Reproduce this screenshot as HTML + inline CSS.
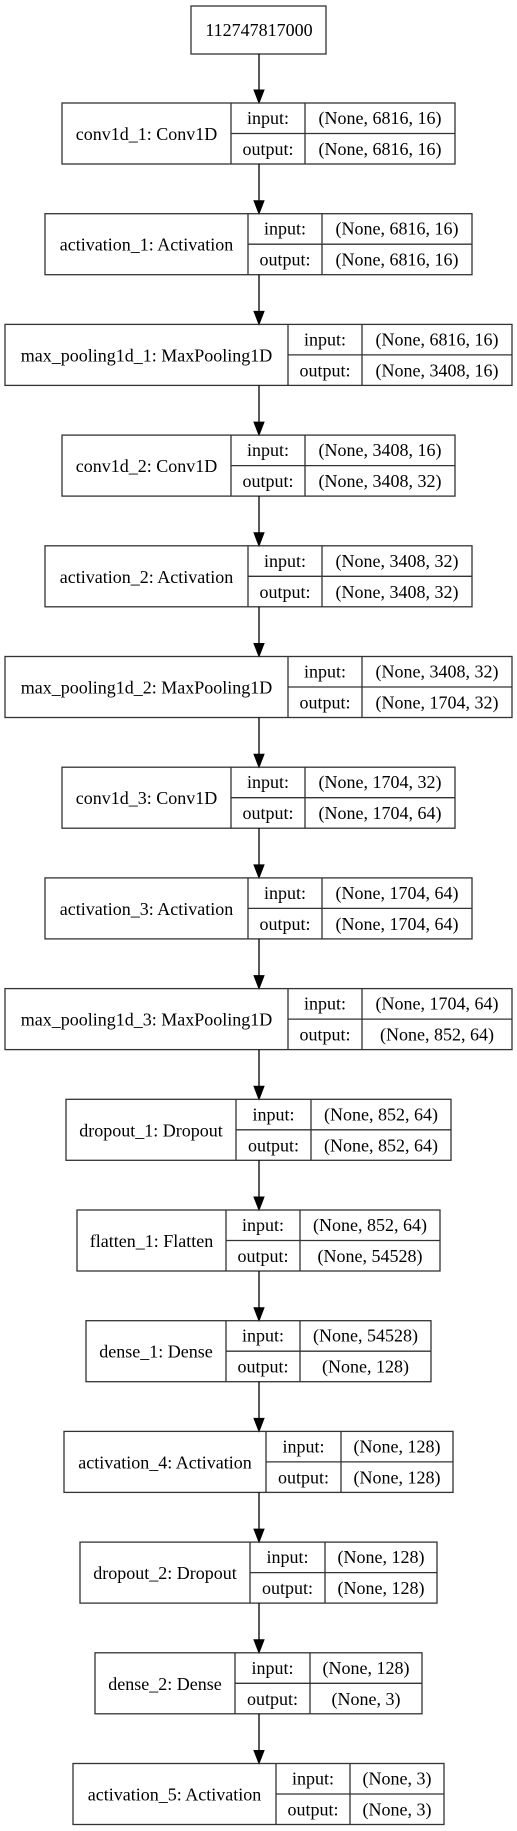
<!DOCTYPE html>
<html><head><meta charset="utf-8"><style>
html,body{margin:0;padding:0;background:#fff;}
svg{display:block}
text{font-family:"Liberation Serif",serif;font-size:18px;fill:#000;text-anchor:middle}
rect,line.b{stroke:#333;stroke-width:1.3;fill:none}
line.a{stroke:#000;stroke-width:1.3}
polygon{fill:#000;stroke:#000}
</style></head><body>
<svg width="517" height="1831" viewBox="0 0 517 1831" xmlns="http://www.w3.org/2000/svg">
<rect x="191" y="6" width="135" height="48"/>
<text x="259" y="36">112747817000</text>
<g id="g"></g>
</svg>
<script>
var L=[
["conv1d_1: Conv1D",62,231,305,455,"(None, 6816, 16)","(None, 6816, 16)"],
["activation_1: Activation",45,248,322,472,"(None, 6816, 16)","(None, 6816, 16)"],
["max_pooling1d_1: MaxPooling1D",5,288,362,512,"(None, 6816, 16)","(None, 3408, 16)"],
["conv1d_2: Conv1D",62,231,305,455,"(None, 3408, 16)","(None, 3408, 32)"],
["activation_2: Activation",45,248,322,472,"(None, 3408, 32)","(None, 3408, 32)"],
["max_pooling1d_2: MaxPooling1D",5,288,362,512,"(None, 3408, 32)","(None, 1704, 32)"],
["conv1d_3: Conv1D",62,231,305,455,"(None, 1704, 32)","(None, 1704, 64)"],
["activation_3: Activation",45,248,322,472,"(None, 1704, 64)","(None, 1704, 64)"],
["max_pooling1d_3: MaxPooling1D",5,288,362,512,"(None, 1704, 64)","(None, 852, 64)"],
["dropout_1: Dropout",66,236,311,451,"(None, 852, 64)","(None, 852, 64)"],
["flatten_1: Flatten",77,226,300,440,"(None, 852, 64)","(None, 54528)"],
["dense_1: Dense",86,226,300,431,"(None, 54528)","(None, 128)"],
["activation_4: Activation",64,266,341,453,"(None, 128)","(None, 128)"],
["dropout_2: Dropout",80,250,325,437,"(None, 128)","(None, 128)"],
["dense_2: Dense",95,235,310,422,"(None, 128)","(None, 3)"],
["activation_5: Activation",73,276,350,444,"(None, 3)","(None, 3)"]
];
var s='',prev=54;
for(var i=0;i<L.length;i++){
 var d=L[i],t=103+i*110.7,x1=d[1],s1=d[2],s2=d[3],x2=d[4];
 s+='<line class="a" x1="259" y1="'+prev+'" x2="259" y2="'+(t-12)+'"/>';
 s+='<polygon points="254,'+(t-13)+' 264,'+(t-13)+' 259,'+t+'"/>';
 s+='<rect x="'+x1+'" y="'+t+'" width="'+(x2-x1)+'" height="61"/>';
 s+='<line class="b" x1="'+s1+'" y1="'+t+'" x2="'+s1+'" y2="'+(t+61)+'"/>';
 s+='<line class="b" x1="'+s2+'" y1="'+t+'" x2="'+s2+'" y2="'+(t+61)+'"/>';
 s+='<line class="b" x1="'+s1+'" y1="'+(t+30.5)+'" x2="'+x2+'" y2="'+(t+30.5)+'"/>';
 s+='<text x="'+(x1+s1)/2+'" y="'+(t+37)+'">'+d[0]+'</text>';
 s+='<text x="'+(s1+s2)/2+'" y="'+(t+21)+'">input:</text>';
 s+='<text x="'+(s1+s2)/2+'" y="'+(t+52)+'">output:</text>';
 s+='<text x="'+(s2+x2)/2+'" y="'+(t+21)+'">'+d[5]+'</text>';
 s+='<text x="'+(s2+x2)/2+'" y="'+(t+52)+'">'+d[6]+'</text>';
 prev=t+61;
}
document.getElementById('g').innerHTML=s;
</script>
</body></html>
